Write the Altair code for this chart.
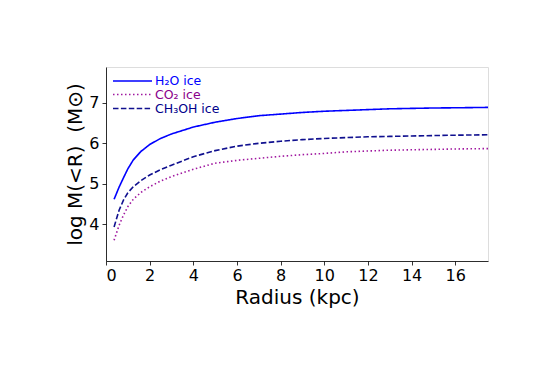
import altair as alt
import pandas as pd

radius = [0.37, 0.6, 0.8, 1.0, 1.25, 1.6, 2.0, 2.5, 3.0, 4.0, 5.0, 6.0, 7.0,
          8.0, 9.0, 10.0, 11.0, 12.0, 13.0, 14.0, 15.0, 16.0, 17.5]
h2o = [4.62, 4.92, 5.15, 5.37, 5.59, 5.80, 5.97, 6.12, 6.23, 6.40, 6.52, 6.61,
       6.68, 6.72, 6.76, 6.79, 6.81, 6.83, 6.85, 6.86, 6.87, 6.875, 6.885]
co2 = [3.61, 3.98, 4.23, 4.44, 4.62, 4.79, 4.93, 5.07, 5.18, 5.36, 5.51, 5.58,
       5.63, 5.68, 5.72, 5.75, 5.79, 5.81, 5.83, 5.84, 5.85, 5.86, 5.87]
ch3oh = [3.94, 4.35, 4.60, 4.78, 4.93, 5.08, 5.22, 5.35, 5.46, 5.67, 5.82, 5.93,
         6.00, 6.05, 6.09, 6.12, 6.14, 6.16, 6.17, 6.18, 6.19, 6.20, 6.21]

series_names = ["H₂O ice", "CO₂ ice", "CH₃OH ice"]
line_colors = ["#0000ff", "#a018a0", "#10108f"]
text_colors = ["#0000ff", "#8B008B", "#00008B"]
dashes = [[1, 0], [1.5, 2.5], [5.5, 2.4]]

rows = []
for name, vals in zip(series_names, [h2o, co2, ch3oh]):
    for r, v in zip(radius, vals):
        rows.append({"Radius": r, "logM": v, "Series": name})
df = pd.DataFrame(rows)

W, H = 382, 194
xscale = alt.Scale(domain=[0, 17.5], nice=False, zero=False)
yscale = alt.Scale(domain=[3.1, 7.88], nice=False, zero=False)

axis_common = dict(labelFont="DejaVu Sans", titleFont="DejaVu Sans",
                   labelFontSize=16, titleFontSize=20, titleFontWeight="normal",
                   labelColor="black", titleColor="black",
                   domainColor="black", tickColor="black", tickSize=4,
                   domainWidth=0.8, tickWidth=0.8, grid=False)

lines = alt.Chart(df).mark_line(strokeWidth=1.6, clip=True).encode(
    x=alt.X("Radius:Q", scale=xscale,
            axis=alt.Axis(values=list(range(0, 17, 2)), title="Radius (kpc)",
                          titlePadding=4, labelPadding=2, **axis_common)),
    y=alt.Y("logM:Q", scale=yscale,
            axis=alt.Axis(values=[4, 5, 6, 7], title="log M(<R)\u00a0\u00a0(M⊙)",
                          titlePadding=3, labelPadding=3, **axis_common)),
    color=alt.Color("Series:N", scale=alt.Scale(domain=series_names, range=line_colors), legend=None),
    strokeDash=alt.StrokeDash("Series:N", scale=alt.Scale(domain=series_names, range=dashes), legend=None),
    detail="Series:N",
)

layers = [lines]
leg_y = [14, 27.5, 41.5]
for i, name in enumerate(series_names):
    ldf = pd.DataFrame({"name": [name]})
    layers.append(alt.Chart(ldf).mark_rule(color=line_colors[i], strokeWidth=1.6,
                                           strokeDash=dashes[i]).encode(
        x=alt.value(7), x2=alt.value(46), y=alt.value(leg_y[i])))
    layers.append(alt.Chart(ldf).mark_text(align="left", baseline="middle",
                                           font="DejaVu Sans", fontSize=12.5,
                                           color=text_colors[i]).encode(
        x=alt.value(49), y=alt.value(leg_y[i]), text="name:N"))

chart = alt.layer(*layers).properties(
    width=W, height=H,
    autosize=alt.AutoSizeParams(type="none"),
    padding={"left": 98, "top": 59, "right": 60, "bottom": 90},
).configure_view(stroke="black", strokeWidth=0.8).configure(background="white")

chart.save("out.html", embed_options={"renderer": "svg", "actions": False})
